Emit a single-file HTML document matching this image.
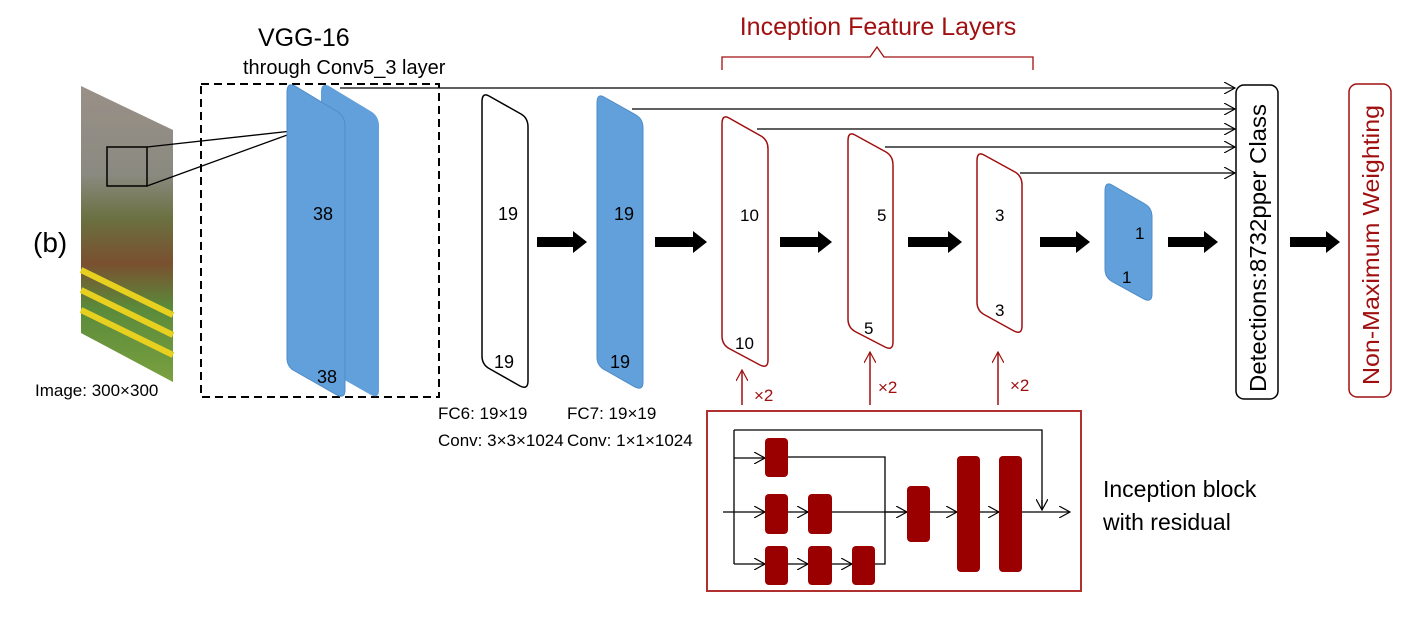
<!DOCTYPE html>
<html><head><meta charset="utf-8"><style>
body{margin:0;background:#fff;}
svg{display:block;font-family:"Liberation Sans",sans-serif;}
</style></head><body>
<svg width="1422" height="628" viewBox="0 0 1422 628" xmlns="http://www.w3.org/2000/svg">
<defs>
<marker id="oa" viewBox="0 0 12 12" refX="11" refY="6" markerWidth="12" markerHeight="12" markerUnits="userSpaceOnUse" orient="auto"><path d="M0,0 L11,6 L0,12" fill="none" stroke="#000" stroke-width="1.2"/></marker>
<marker id="ra" viewBox="0 0 12 12" refX="11" refY="6" markerWidth="12" markerHeight="12" markerUnits="userSpaceOnUse" orient="auto"><path d="M0,0 L11,6 L0,12" fill="none" stroke="#a01010" stroke-width="1.2"/></marker>
<linearGradient id="img" x1="0" y1="0" x2="0" y2="1">
<stop offset="0" stop-color="#9a9088"/><stop offset="0.3" stop-color="#8a8a80"/><stop offset="0.45" stop-color="#6a7040"/><stop offset="0.6" stop-color="#7a5030"/><stop offset="0.75" stop-color="#5a8a3a"/><stop offset="1" stop-color="#7aa040"/></linearGradient>
</defs>
<polygon points="81,86 173,130 173,382 81,333" fill="url(#img)"/>
<g stroke="#e8d020" stroke-width="6"><line x1="81" y1="290" x2="173" y2="335"/><line x1="81" y1="310" x2="173" y2="355"/><line x1="81" y1="270" x2="173" y2="315"/></g>
<rect x="107" y="147" width="40" height="39" fill="none" stroke="#000" stroke-width="1.5"/>
<line x1="147" y1="147" x2="301" y2="130" stroke="#000" stroke-width="1.3"/>
<line x1="147" y1="186" x2="301" y2="130" stroke="#000" stroke-width="1.3"/>
<text x="33" y="252" font-size="28">(b)</text>
<text x="35" y="396" font-size="17">Image: 300×300</text>
<text x="258" y="46" font-size="25">VGG-16</text>
<text x="243" y="74" font-size="20">through Conv5_3 layer</text>
<rect x="201" y="84" width="238" height="313" fill="none" stroke="#000" stroke-width="2" stroke-dasharray="8,5"/>
<path d="M329,86 L372,112 Q379,117 379,126 L379,390 Q379,399 371,395 L327,370 Q321,366 321,358 L321,92 Q321,82 329,86Z" fill="#62a0dc"/>
<path d="M295,86 L338,112 Q345,117 345,126 L345,390 Q345,399 337,395 L293,370 Q287,366 287,358 L287,92 Q287,82 295,86Z" fill="#62a0dc" stroke="#4f8cc8" stroke-width="1"/>
<text x="313" y="220" font-size="18">38</text>
<text x="317" y="383" font-size="18">38</text>
<g stroke="#000" stroke-width="1.2" marker-end="url(#oa)">
<line x1="340" y1="88" x2="1235" y2="88"/>
<line x1="632" y1="109" x2="1235" y2="109"/>
<line x1="757" y1="129" x2="1235" y2="129"/>
<line x1="885" y1="147" x2="1235" y2="147"/>
<line x1="1020" y1="173" x2="1235" y2="173"/>
</g>
<path d="M489,96 L521,114 Q528,118 528,127 L528,381 Q528,390 520,386 L490,369 Q482,365 482,356 L482,102 Q482,92 489,96Z" fill="#fff" stroke="#000" stroke-width="1.5"/>
<text x="498" y="220" font-size="18">19</text>
<text x="494" y="368" font-size="18">19</text>
<path d="M604,97 L636,115 Q643,119 643,128 L643,382 Q643,391 635,387 L605,370 Q597,366 597,357 L597,103 Q597,93 604,97Z" fill="#62a0dc" stroke="#4f8cc8"/>
<text x="614" y="220" font-size="18">19</text>
<text x="610" y="368" font-size="18">19</text>
<path d="M729,118 L761,136 Q768,140 768,149 L768,360 Q768,369 760,365 L730,349 Q722,345 722,336 L722,124 Q722,114 729,118Z" fill="#fff" stroke="#a01010" stroke-width="1.5"/>
<text x="740" y="221" font-size="17">10</text>
<text x="735" y="349" font-size="17">10</text>
<path d="M855,135 L886,152 Q893,156 893,165 L893,342 Q893,351 885,347 L856,332 Q848,328 848,319 L848,141 Q848,131 855,135Z" fill="#fff" stroke="#a01010" stroke-width="1.5"/>
<text x="877" y="221" font-size="17">5</text>
<text x="864" y="334" font-size="17">5</text>
<path d="M984,155 L1015,172 Q1022,176 1022,185 L1022,326 Q1022,335 1014,331 L985,315 Q977,311 977,302 L977,161 Q977,151 984,155Z" fill="#fff" stroke="#a01010" stroke-width="1.5"/>
<text x="995" y="221" font-size="17">3</text>
<text x="995" y="316" font-size="17">3</text>
<path d="M1112,185 L1145,204 Q1152,208 1152,217 L1152,294 Q1152,303 1144,299 L1113,282 Q1105,278 1105,269 L1105,191 Q1105,181 1112,185Z" fill="#62a0dc" stroke="#4f8cc8"/>
<text x="1135" y="239" font-size="17">1</text>
<text x="1122" y="283" font-size="17">1</text>
<g fill="#000">
<polygon points="537,237 573,237 573,231 587,242 573,253 573,247 537,247"/>
<polygon points="655,237 693,237 693,231 707,242 693,253 693,247 655,247"/>
<polygon points="780,237 818,237 818,231 832,242 818,253 818,247 780,247"/>
<polygon points="908,237 948,237 948,231 962,242 948,253 948,247 908,247"/>
<polygon points="1040,237 1076,237 1076,231 1090,242 1076,253 1076,247 1040,247"/>
<polygon points="1168,237 1204,237 1204,231 1218,242 1204,253 1204,247 1168,247"/>
<polygon points="1290,237 1326,237 1326,231 1340,242 1326,253 1326,247 1290,247"/>
</g>
<rect x="1236" y="85" width="42" height="314" rx="8" fill="#fff" stroke="#000" stroke-width="1.5"/>
<text transform="translate(1266,248) rotate(-90)" text-anchor="middle" font-size="23" textLength="288" lengthAdjust="spacingAndGlyphs">Detections:8732pper Class</text>
<rect x="1349" y="84" width="42" height="313" rx="8" fill="#fff" stroke="#a01010" stroke-width="1.5"/>
<text transform="translate(1379,245) rotate(-90)" text-anchor="middle" font-size="23" fill="#a01010" textLength="280" lengthAdjust="spacingAndGlyphs">Non-Maximum Weighting</text>
<text x="878" y="35" text-anchor="middle" font-size="25" fill="#a01010">Inception Feature Layers</text>
<path d="M722,70 L722,57 L870,57 L877,47 L884,57 L1033,57 L1033,70" fill="none" stroke="#a01010" stroke-width="1.3"/>
<text x="438" y="419" font-size="17">FC6: 19×19</text>
<text x="438" y="446" font-size="17">Conv: 3×3×1024</text>
<text x="567" y="419" font-size="17">FC7: 19×19</text>
<text x="567" y="446" font-size="17">Conv: 1×1×1024</text>
<g stroke="#a01010" stroke-width="1.5" marker-end="url(#ra)">
<line x1="742" y1="405" x2="742" y2="370"/>
<line x1="870" y1="405" x2="870" y2="352"/>
<line x1="998" y1="405" x2="998" y2="352"/>
</g>
<g fill="#a01010" font-size="17"><text x="754" y="401">×2</text><text x="878" y="393">×2</text><text x="1010" y="391">×2</text></g>
<rect x="707" y="411" width="374" height="180" fill="#fff" stroke="#b03030" stroke-width="2"/>
<g fill="none" stroke="#000" stroke-width="1.3">
<path d="M734,430 L1042,430 L1042,508"/>
<line x1="734" y1="430" x2="734" y2="564"/>
<path d="M788,457 L885,457 L885,564 L875,564"/>
<line x1="832" y1="512" x2="907" y2="512"/>
</g>
<g stroke="#000" stroke-width="1.3" marker-end="url(#oa)">
<line x1="1042" y1="500" x2="1042" y2="510"/>
<line x1="734" y1="458" x2="765" y2="458"/>
<line x1="723" y1="512" x2="765" y2="512"/>
<line x1="788" y1="512" x2="808" y2="512"/>
<line x1="734" y1="564" x2="765" y2="564"/>
<line x1="788" y1="564" x2="808" y2="564"/>
<line x1="832" y1="564" x2="852" y2="564"/>
<line x1="885" y1="512" x2="907" y2="512"/>
<line x1="930" y1="512" x2="957" y2="512"/>
<line x1="980" y1="512" x2="999" y2="512"/>
<line x1="1022" y1="512" x2="1070" y2="512"/>
</g>
<g fill="#9a0000">
<rect x="765" y="438" width="23" height="39" rx="4"/>
<rect x="765" y="494" width="23" height="40" rx="4"/>
<rect x="808" y="494" width="24" height="40" rx="4"/>
<rect x="765" y="546" width="23" height="39" rx="4"/>
<rect x="808" y="546" width="24" height="39" rx="4"/>
<rect x="852" y="546" width="23" height="39" rx="4"/>
<rect x="907" y="486" width="23" height="56" rx="4"/>
<rect x="957" y="456" width="23" height="116" rx="4"/>
<rect x="999" y="456" width="23" height="116" rx="4"/>
</g>
<text x="1103" y="497" font-size="23">Inception block</text>
<text x="1103" y="530" font-size="23">with residual</text>
</svg>
</body></html>
